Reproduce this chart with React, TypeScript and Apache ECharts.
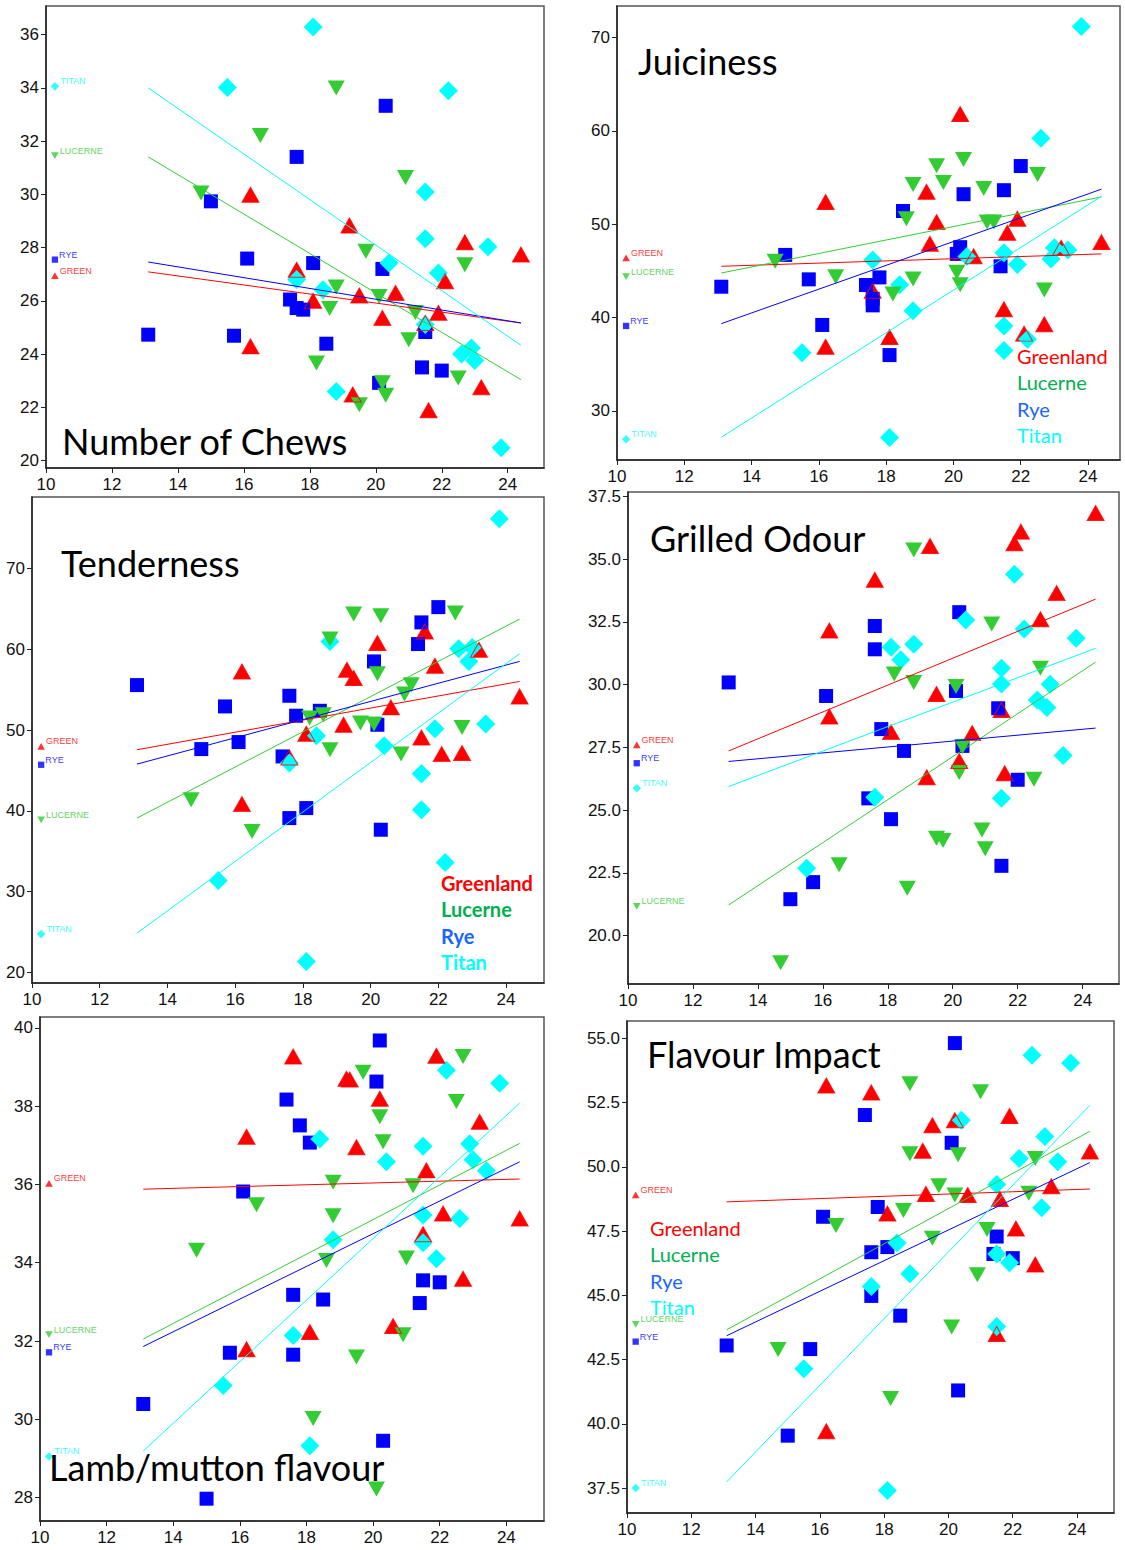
import React, { useEffect, useRef } from "react";
import * as echarts from "echarts";

// Shared x values (one per animal) for each pasture group
const xGreenland = [16.2, 16.2, 17.6, 18.1, 19.2, 19.3, 19.5, 20.2, 20.6, 21.5, 21.6, 21.9, 22.1, 22.7, 23.2, 24.4];
const xLucerne = [14.7, 16.5, 18.2, 18.6, 18.8, 18.8, 19.5, 19.7, 20.1, 20.2, 20.3, 20.9, 21.0, 21.2, 22.5, 22.7];
const xRye = [13.1, 15.0, 15.7, 16.1, 17.4, 17.6, 17.6, 17.8, 18.1, 18.5, 20.1, 20.2, 20.3, 21.4, 21.5, 22.0];
const xTitan = [15.5, 17.6, 18.1, 18.4, 18.8, 20.4, 21.5, 21.5, 21.5, 21.9, 22.2, 22.6, 22.9, 23.0, 23.4, 23.8];

// Number of Chews
const chewsGreenland = [29.99, 24.29, 27.17, 26.0, 28.83, 22.48, 26.2, 25.36, 26.3, 25.17, 21.89, 25.55, 26.74, 28.2, 22.75, 27.74];
const chewsLucerne = [30.05, 32.21, 23.67, 25.71, 34.0, 26.52, 22.1, 27.86, 26.16, 22.92, 22.45, 30.64, 24.54, 25.56, 23.1, 27.36];
const chewsRye = [24.73, 29.74, 24.69, 27.59, 26.05, 31.41, 25.73, 25.67, 27.42, 24.39, 22.92, 27.2, 33.33, 23.5, 24.83, 23.38];
const chewsTitan = [34.02, 26.8, 36.29, 26.42, 22.59, 27.42, 30.09, 28.33, 25.11, 27.05, 33.9, 24.0, 24.23, 23.76, 28.03, 20.48];
const chewsFit = { green: [27.09, 25.17], lucerne: [31.41, 23.04], rye: [27.46, 25.17], titan: [34.0, 24.33] };
const chewsTags = { green: 26.95, lucerne: 31.46, rye: 27.55, titan: 34.06 };
const chewsTicks = [20, 22, 24, 26, 28, 30, 32, 34, 36];

// Juiciness
const juiceGreenland = [52.39, 36.86, 42.87, 37.91, 53.47, 47.9, 50.23, 61.81, 46.57, 40.89, 49.08, 50.59, 38.27, 39.27, 47.47, 48.08];
const juiceLucerne = [46.03, 44.38, 42.51, 50.59, 54.26, 44.12, 56.27, 54.47, 44.84, 43.51, 56.95, 53.82, 50.23, 50.23, 55.34, 42.94];
const juiceRye = [43.3, 46.71, 44.09, 39.2, 43.48, 42.0, 41.3, 44.3, 35.97, 51.42, 46.82, 47.54, 53.22, 45.49, 53.65, 56.24];
const juiceTitan = [36.22, 46.17, 27.12, 43.51, 40.71, 46.53, 46.93, 39.09, 36.47, 45.67, 37.66, 59.22, 46.28, 47.47, 47.25, 71.19];
const juiceFit = { green: [45.49, 46.82], lucerne: [44.77, 52.93], rye: [39.34, 53.76], titan: [27.16, 53.0] };
const juiceTags = { green: 46.39, lucerne: 44.38, rye: 39.09, titan: 26.95 };
const juiceTicks = [30, 40, 50, 60, 70];

// Tenderness
const tenderGreenland = [57.25, 40.83, 46.61, 49.54, 50.65, 57.46, 56.43, 60.76, 52.8, 49.08, 62.2, 57.95, 47.02, 47.15, 59.93, 54.16];
const tenderLucerne = [41.37, 37.45, 51.48, 51.89, 61.25, 47.56, 64.35, 50.86, 50.73, 56.96, 64.14, 47.02, 54.45, 55.6, 64.47, 50.32];
const tenderRye = [55.56, 47.64, 52.92, 48.51, 46.73, 54.24, 39.1, 51.77, 40.34, 52.38, 58.49, 50.65, 37.66, 60.64, 63.32, 65.21];
const tenderTitan = [31.39, 45.91, 21.36, 49.29, 60.97, 48.05, 44.59, 40.13, 44.6, 50.16, 33.61, 60.06, 58.49, 60.2, 50.73, 76.15];
const tenderFit = { green: [47.56, 56.01], lucerne: [39.1, 63.73], rye: [45.78, 58.49], titan: [24.87, 59.44] };
const tenderTags = { green: 47.97, lucerne: 38.89, rye: 45.7, titan: 24.74 };
const tenderTicks = [20, 30, 40, 50, 60, 70];

// Grilled Odour
const odourGreenland = [32.16, 28.73, 34.18, 28.11, 26.31, 35.53, 29.63, 26.96, 28.07, 28.99, 26.47, 35.64, 36.1, 32.61, 33.65, 36.84];
const odourLucerne = [18.92, 22.82, 30.43, 21.89, 35.37, 30.09, 23.88, 23.79, 29.93, 26.5, 27.53, 24.21, 23.46, 32.42, 26.23, 30.66];
const odourRye = [30.09, 21.45, 22.13, 29.55, 25.47, 32.34, 31.41, 28.23, 24.64, 27.36, 29.75, 32.89, 27.56, 29.06, 22.78, 26.21];
const odourTitan = [22.68, 25.51, 31.49, 30.99, 31.61, 32.58, 30.66, 30.03, 25.47, 34.4, 32.22, 29.39, 29.09, 30.02, 27.18, 31.85];
const odourFit = { green: [27.36, 33.41], lucerne: [21.22, 30.9], rye: [26.94, 28.27], titan: [25.94, 31.45] };
const odourTags = { green: 27.6, lucerne: 21.16, rye: 26.87, titan: 25.87 };
const odourTicks = [20, 22.5, 25, 27.5, 30, 32.5, 35, 37.5];

// Lamb/mutton flavour
const lambGreenland = [37.22, 31.79, 39.27, 32.23, 38.7, 38.68, 36.95, 38.19, 32.38, 34.73, 36.36, 39.29, 35.26, 33.59, 37.6, 35.13];
const lambLucerne = [34.32, 35.48, 30.02, 34.06, 36.06, 35.2, 31.59, 38.87, 28.22, 37.73, 37.09, 32.16, 34.12, 35.97, 38.12, 39.27];
const lambRye = [30.39, 27.97, 31.7, 35.82, 38.17, 33.18, 31.65, 37.51, 37.07, 33.06, 38.63, 39.68, 29.45, 32.97, 33.55, 33.5];
const lambTitan = [30.86, 32.14, 29.32, 37.16, 34.59, 36.58, 36.98, 35.22, 34.51, 34.1, 38.92, 35.13, 37.04, 36.63, 36.35, 38.59];
const lambFit = { green: [35.88, 36.14], lucerne: [32.05, 37.05], rye: [31.86, 36.58], titan: [29.19, 38.08] };
const lambTags = { green: 36.03, lucerne: 32.16, rye: 31.71, titan: 29.05 };
const lambTicks = [28, 30, 32, 34, 36, 38, 40];

// Flavour Impact
const impactGreenland = [53.17, 39.71, 52.9, 48.19, 50.63, 48.95, 51.62, 51.82, 48.91, 43.5, 48.75, 51.98, 47.6, 46.2, 49.25, 50.6];
const impactLucerne = [42.89, 47.72, 40.99, 48.3, 53.24, 50.51, 47.22, 49.27, 43.77, 48.91, 50.47, 45.8, 52.93, 47.56, 48.98, 50.33];
const impactRye = [43.05, 39.54, 42.91, 48.06, 52.02, 46.68, 44.98, 48.44, 46.88, 44.21, 50.94, 54.82, 41.3, 46.61, 47.29, 46.45];
const impactTitan = [42.14, 45.35, 37.41, 47.04, 45.84, 51.82, 49.32, 46.61, 43.79, 46.27, 50.33, 54.35, 48.41, 51.18, 50.2, 54.05];
const impactFit = { green: [48.64, 49.14], lucerne: [43.66, 51.39], rye: [43.43, 50.17], titan: [37.74, 52.4] };
const impactTags = { green: 48.91, lucerne: 43.87, rye: 43.2, titan: 37.5 };
const impactTicks = [37.5, 40, 42.5, 45, 47.5, 50, 52.5, 55];

const xTicks = [10, 12, 14, 16, 18, 20, 22, 24];
const tagX = 10.27;
const legendNames = ["Greenland", "Lucerne", "Rye", "Titan"];

const allX = [...xGreenland, ...xLucerne, ...xRye, ...xTitan];
const fitX = [Math.min(...allX), Math.max(...allX)];

const groups = {
  green: { tag: "GREEN", color: "#ff0000", symbol: "triangle", size: [17, 15], rotate: 0, xs: xGreenland },
  lucerne: { tag: "LUCERNE", color: "#33cc33", symbol: "triangle", size: [17, 15], rotate: 180, xs: xLucerne },
  rye: { tag: "RYE", color: "#0000ff", symbol: "rect", size: [14, 14], rotate: 0, xs: xRye },
  titan: { tag: "TITAN", color: "#00ffff", symbol: "diamond", size: [19, 19], rotate: 0, xs: xTitan },
};
const legendColors = ["#ff0000", "#00b050", "#1a66ff", "#00ffff"];

const panels = [
  {
    title: "Number of Chews", titleX: 62, titleY: 441,
    grid: { left: 46, top: 6, width: 498, height: 462 }, xMax: 25.1, yMin: 19.72, yMax: 37.08,
    yTicks: chewsTicks, digits: 0,
    ys: { green: chewsGreenland, lucerne: chewsLucerne, rye: chewsRye, titan: chewsTitan },
    fit: chewsFit, tags: chewsTags, legend: null,
  },
  {
    title: "Juiciness", titleX: 638, titleY: 61,
    grid: { left: 617, top: 6, width: 503, height: 454 }, xMax: 24.95, yMin: 24.72, yMax: 73.4,
    yTicks: juiceTicks, digits: 0,
    ys: { green: juiceGreenland, lucerne: juiceLucerne, rye: juiceRye, titan: juiceTitan },
    fit: juiceFit, tags: juiceTags, legend: { x: 1017, y: 356, bold: false },
  },
  {
    title: "Tenderness", titleX: 61, titleY: 563,
    grid: { left: 32, top: 497, width: 512, height: 486 }, xMax: 25.12, yMin: 18.69, yMax: 78.84,
    yTicks: tenderTicks, digits: 0,
    ys: { green: tenderGreenland, lucerne: tenderLucerne, rye: tenderRye, titan: tenderTitan },
    fit: tenderFit, tags: tenderTags, legend: { x: 441, y: 883, bold: true },
  },
  {
    title: "Grilled Odour", titleX: 650, titleY: 538,
    grid: { left: 628, top: 492, width: 491, height: 492 }, xMax: 25.12, yMin: 18.07, yMax: 37.68,
    yTicks: odourTicks, digits: 1,
    ys: { green: odourGreenland, lucerne: odourLucerne, rye: odourRye, titan: odourTitan },
    fit: odourFit, tags: odourTags, legend: null,
  },
  {
    title: "Lamb/mutton flavour", titleX: 49, titleY: 1467,
    grid: { left: 40, top: 1017, width: 504, height: 504 }, xMax: 25.13, yMin: 27.4, yMax: 40.28,
    yTicks: lambTicks, digits: 0,
    ys: { green: lambGreenland, lucerne: lambLucerne, rye: lambRye, titan: lambTitan },
    fit: lambFit, tags: lambTags, legend: null,
  },
  {
    title: "Flavour Impact", titleX: 647, titleY: 1054,
    grid: { left: 627, top: 1021, width: 487, height: 492 }, xMax: 25.15, yMin: 36.53, yMax: 55.68,
    yTicks: impactTicks, digits: 1,
    ys: { green: impactGreenland, lucerne: impactLucerne, rye: impactRye, titan: impactTitan },
    fit: impactFit, tags: impactTags, legend: { x: 650, y: 1228, bold: false },
  },
];

const axisFont = { fontFamily: "Liberation Sans", fontSize: 17, color: "#111" };

function buildOption() {
  const grid: any[] = [];
  const xAxis: any[] = [];
  const yAxis: any[] = [];
  const series: any[] = [];
  const graphic: any[] = [];

  panels.forEach((p, i) => {
    grid.push({ ...p.grid, show: true, borderColor: "#555", borderWidth: 1.5, backgroundColor: "#fff" });
    xAxis.push({
      type: "value", gridIndex: i, min: 10, max: p.xMax,
      axisLine: { show: true, onZero: false, lineStyle: { color: "#222", width: 1.5 } },
      axisTick: { show: true, length: 5, customValues: xTicks, lineStyle: { color: "#222" } },
      axisLabel: { customValues: xTicks, margin: 8, ...axisFont },
      splitLine: { show: false },
    });
    yAxis.push({
      type: "value", gridIndex: i, min: p.yMin, max: p.yMax,
      axisLine: { show: true, onZero: false, lineStyle: { color: "#222", width: 1.5 } },
      axisTick: { show: true, length: 5, customValues: p.yTicks, lineStyle: { color: "#222" } },
      axisLabel: {
        customValues: p.yTicks, margin: 7, ...axisFont,
        formatter: (v: number) => v.toFixed(p.digits),
      },
      splitLine: { show: false },
    });

    const scatter = (key: string, outline = false) => {
      const g = (groups as any)[key];
      const ys = (p.ys as any)[key];
      return {
        type: "scatter", xAxisIndex: i, yAxisIndex: i, silent: true,
        symbol: g.symbol, symbolSize: g.size, symbolRotate: g.rotate,
        data: g.xs.map((x: number, k: number) => [x, ys[k]]),
        itemStyle: outline
          ? { color: "rgba(0,0,0,0)", borderColor: g.color, borderWidth: 1 }
          : { color: g.color, opacity: 1 },
        z: 2,
      };
    };
    ["green", "rye", "titan", "lucerne"].forEach((k) => series.push(scatter(k)));
    series.push(scatter("green", true));

    ["green", "lucerne", "rye", "titan"].forEach((k) => {
      const g = (groups as any)[k];
      const f = (p.fit as any)[k];
      series.push({
        type: "line", xAxisIndex: i, yAxisIndex: i, silent: true, showSymbol: false, symbol: "none",
        data: [[fitX[0], f[0]], [fitX[1], f[1]]],
        lineStyle: { color: g.color, width: 1 }, z: 3,
      });
      series.push({
        type: "scatter", xAxisIndex: i, yAxisIndex: i, silent: true,
        symbol: g.symbol, symbolSize: [g.size[0] * 0.45, g.size[1] * 0.45], symbolRotate: g.rotate,
        data: [{ value: [tagX, (p.tags as any)[k]], name: g.tag }],
        itemStyle: { color: g.color },
        label: {
          show: true, position: "right", distance: 1, offset: [0, -5],
          formatter: (d: any) => d.name, color: g.color,
          fontFamily: "Liberation Sans", fontSize: 9,
        },
        z: 3,
      });
    });

    graphic.push({
      type: "text", x: p.titleX, y: p.titleY, z: 10,
      style: { text: p.title, fill: "#000", font: "36px Lato", textAlign: "left", textVerticalAlign: "middle" },
    });
    if (p.legend) {
      legendNames.forEach((name, k) => {
        graphic.push({
          type: "text", x: p.legend!.x, y: p.legend!.y + k * 26.3, z: 10,
          style: {
            text: name, fill: legendColors[k],
            font: `${p.legend!.bold ? "bold " : ""}20px Lato`,
            textAlign: "left", textVerticalAlign: "middle",
          },
        });
      });
    }
  });

  return { animation: false, backgroundColor: "#fff", grid, xAxis, yAxis, series, graphic };
}

export default function App() {
  const ref = useRef<HTMLDivElement>(null);
  useEffect(() => {
    if (!ref.current) return;
    const chart = echarts.init(ref.current, undefined, { renderer: "svg" });
    chart.setOption(buildOption() as any);
    return () => chart.dispose();
  }, []);
  return (
    <div
      ref={ref}
      style={{ position: "absolute", left: 0, top: 0, width: 1125, height: 1550, background: "#fff" }}
    />
  );
}
